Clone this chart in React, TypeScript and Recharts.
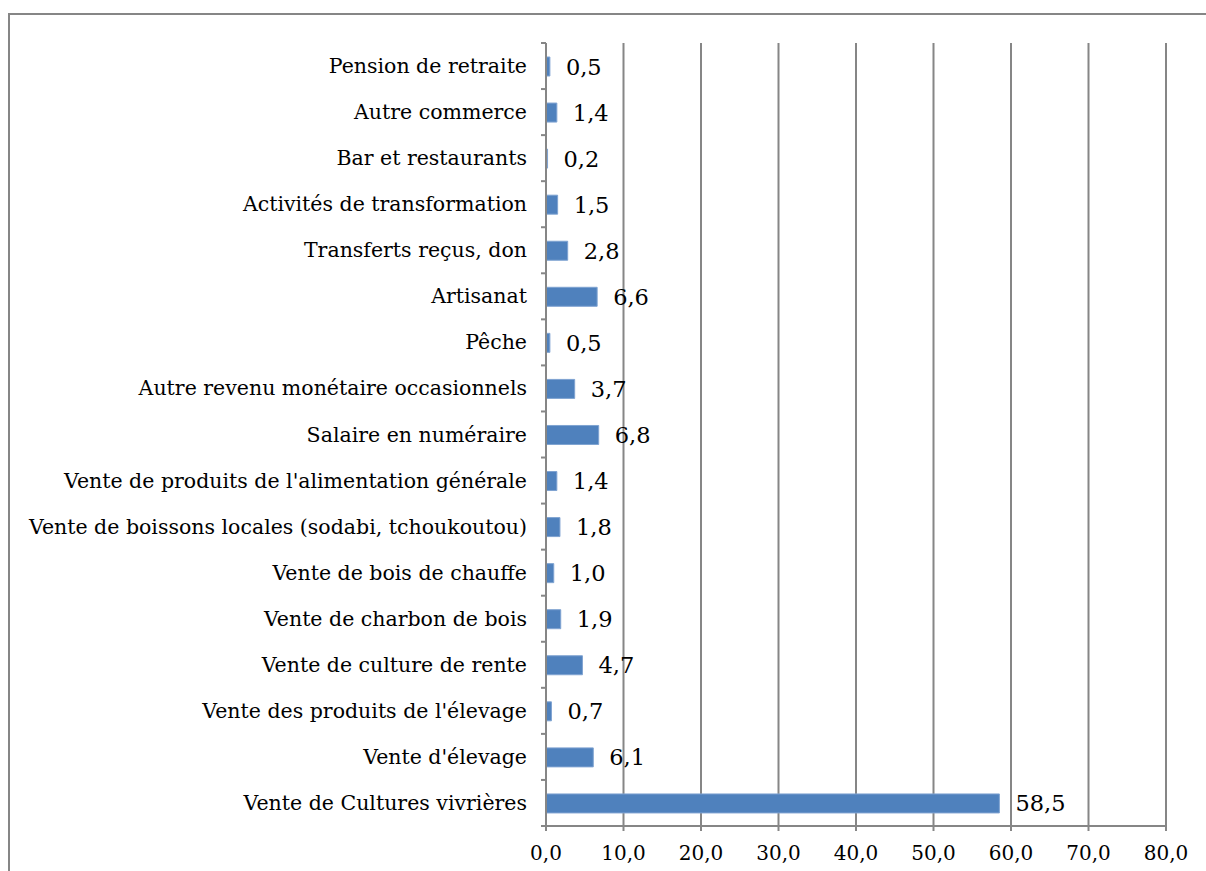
import { BarChart, Bar, XAxis, YAxis, CartesianGrid, LabelList } from "recharts";

const categories = [
  "Pension de retraite",
  "Autre commerce",
  "Bar et restaurants",
  "Activités de transformation",
  "Transferts reçus, don",
  "Artisanat",
  "Pêche",
  "Autre revenu monétaire occasionnels",
  "Salaire en numéraire",
  "Vente de produits de l'alimentation générale",
  "Vente de boissons locales (sodabi, tchoukoutou)",
  "Vente de bois de chauffe",
  "Vente de charbon de bois",
  "Vente de culture de rente",
  "Vente des produits de l'élevage",
  "Vente d'élevage",
  "Vente de Cultures vivrières",
];

const shares = [0.5, 1.4, 0.2, 1.5, 2.8, 6.6, 0.5, 3.7, 6.8, 1.4, 1.8, 1.0, 1.9, 4.7, 0.7, 6.1, 58.5];

const xTicks = [0, 10, 20, 30, 40, 50, 60, 70, 80];

const data = categories.map((name, i) => ({ name, value: shares[i] }));

const W = 1196;
const H = 856;
const TOP = 28;
const AXIS_X = 536;
const PLOT_H = 783;
const BAND = PLOT_H / categories.length;
const FONT = "'DejaVu Serif', serif";
const GRAY = "#868686";

const fmt = (v: number) => v.toFixed(1).replace(".", ",");

function CatTick(props: any) {
  const { y, payload, index } = props;
  const top = y - BAND / 2;
  return (
    <g>
      <line x1={AXIS_X - 5} x2={AXIS_X} y1={top} y2={top} stroke={GRAY} strokeWidth={2} />
      {index === categories.length - 1 && (
        <line x1={AXIS_X - 5} x2={AXIS_X} y1={top + BAND} y2={top + BAND} stroke={GRAY} strokeWidth={2} />
      )}
      <text x={AXIS_X - 19} y={y} dy={7} textAnchor="end" fontSize={20.5} fill="#000" fontFamily={FONT}>
        {payload.value}
      </text>
    </g>
  );
}

function ValueLabel(props: any) {
  const { x, y, width, height, value } = props;
  return (
    <text x={x + width + 16} y={y + height / 2} dy={8} fontSize={22.5} fill="#000" fontFamily={FONT}>
      {fmt(value)}
    </text>
  );
}

export default function App() {
  return (
    <div
      style={{
        position: "fixed",
        left: 8,
        top: 13,
        width: 1198,
        height: 858,
        borderTop: `2px solid ${GRAY}`,
        borderLeft: `2px solid ${GRAY}`,
        background: "#fff",
        overflow: "hidden",
      }}
    >
      <BarChart
        width={W}
        height={H}
        data={data}
        layout="vertical"
        margin={{ top: TOP, right: 40, left: 0, bottom: 0 }}
        barCategoryGap={0}
      >
        <CartesianGrid horizontal={false} vertical stroke={GRAY} strokeWidth={2} strokeDasharray="" />
        <XAxis
          type="number"
          domain={[0, 80]}
          ticks={xTicks}
          tickFormatter={fmt}
          height={45}
          axisLine={{ stroke: GRAY, strokeWidth: 2 }}
          tickLine={{ stroke: GRAY, strokeWidth: 2 }}
          tickSize={5}
          tickMargin={15}
          tick={{ fill: "#000", fontSize: 20, fontFamily: FONT }}
          interval={0}
        />
        <YAxis
          type="category"
          dataKey="name"
          width={AXIS_X}
          axisLine={{ stroke: GRAY, strokeWidth: 2 }}
          tickLine={false}
          tick={<CatTick />}
          interval={0}
        />
        <Bar dataKey="value" fill="#4f81bd" stroke="#7fa3d1" strokeWidth={1} barSize={19} isAnimationActive={false}>
          <LabelList dataKey="value" content={<ValueLabel />} />
        </Bar>
      </BarChart>
    </div>
  );
}
